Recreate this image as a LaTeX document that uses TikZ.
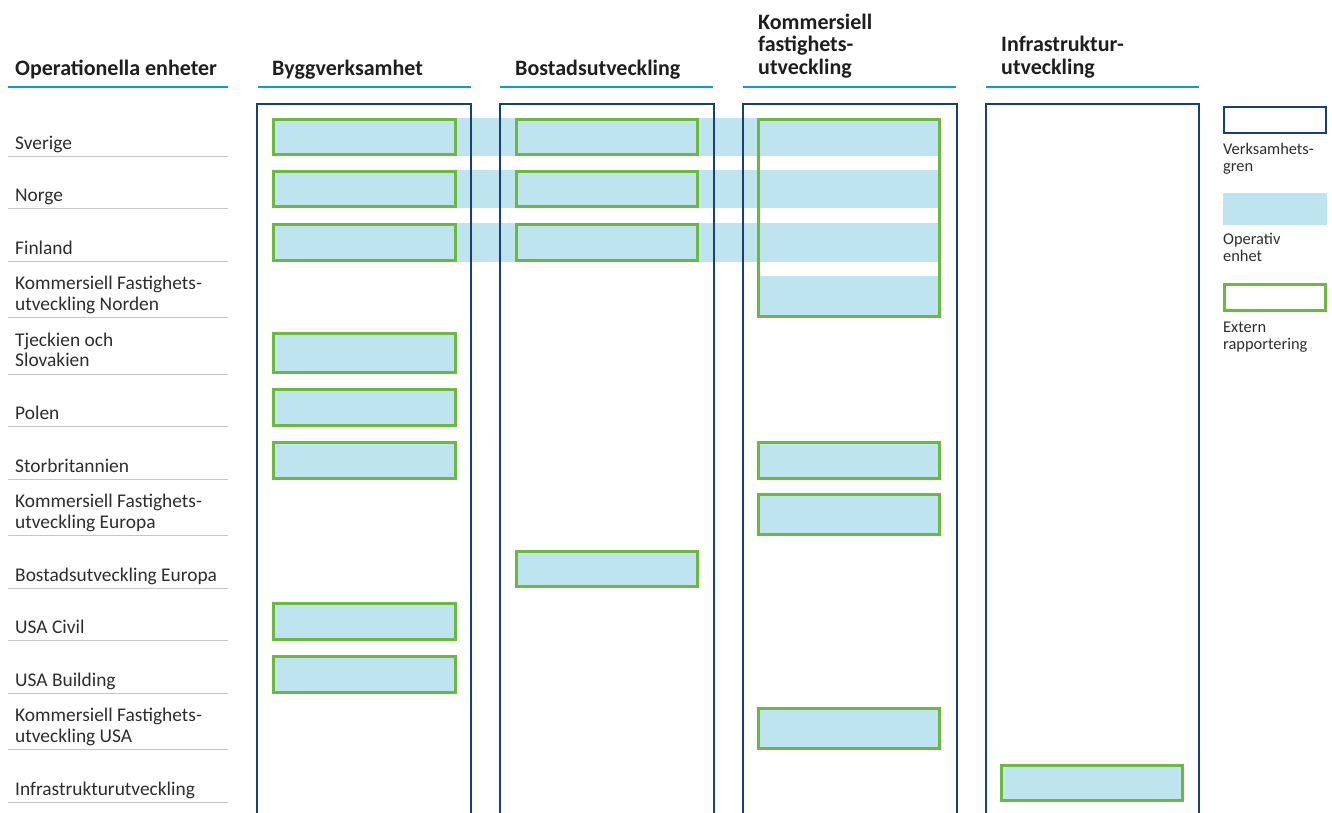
\documentclass[tikz,border=0pt]{standalone}
\usepackage{fontspec}
\setmainfont{Carlito}
\definecolor{navy}{RGB}{27,63,116}
\definecolor{ulblue}{RGB}{10,155,220}
\definecolor{extgreen}{RGB}{108,184,67}
\definecolor{opfill}{RGB}{190,228,239}
\definecolor{sepgray}{RGB}{198,198,198}
\definecolor{txt}{RGB}{45,45,45}
\definecolor{hdtxt}{RGB}{30,30,30}
\tikzset{
  colbox/.style={draw=navy, line width=1.9pt},
  underl/.style={draw=ulblue, line width=2pt},
  sepline/.style={draw=sepgray, line width=1pt},
  extbox/.style={draw=extgreen, fill=opfill, line width=2.7pt},
  extonly/.style={draw=extgreen, line width=2.7pt},
  band/.style={fill=opfill},
  hdr/.style={anchor=base west, inner sep=0pt, text=hdtxt, font=\bfseries\fontsize{22}{22.5}\selectfont},
  rowlab/.style={anchor=base west, inner sep=0pt, text=txt, font=\fontsize{19.4}{20.5}\selectfont},
  leglab/.style={anchor=base west, inner sep=0pt, text=txt, font=\fontsize{16.4}{17}\selectfont}
}
\begin{document}
\begin{tikzpicture}[x=1pt,y=-1pt]
\useasboundingbox (0,0) rectangle (1332,812);
% operative bands spanning columns
\foreach \a/\b in {118/156,170/208,223/261.5}
  \fill[band] (272,\a) rectangle (941,\b);
\fill[band] (757,276) rectangle (941,317.5);
% column boxes (open at bottom)
\foreach \l/\r in {257/471,500/714,743/957,986/1199}
  \draw[colbox] (\l,813) -- (\l,104) -- (\r,104) -- (\r,813);
% header underlines
\foreach \l/\r in {8/228,258/471,500/713,743/956,986/1199}
  \draw[underl] (\l,87) -- (\r,87);
% row separators
\foreach \y in {156,208,261.5,317.5,374,426.5,479.5,535.5,588,640.5,693.5,749.5,802}
  \draw[sepline] (8,\y) -- (228,\y);
% headers
\node[hdr] (h0) at (15,75) {Operationella enheter};
\node[hdr] (h1) at (272,75) {Byggverksamhet};
\node[hdr] (h2) at (515,75) {Bostadsutveckling};
\node[hdr] (h3) at (758,74) {\parbox[b]{200pt}{\raggedright Kommersiell\\fastighets-\\utveckling}};
\node[hdr] (h4) at (1001,74) {\parbox[b]{200pt}{\raggedright Infrastruktur-\\utveckling}};
% row labels
\node[rowlab] (r1) at (15,149) {Sverige};
\node[rowlab] (r2) at (15,201) {Norge};
\node[rowlab] (r3) at (15,254) {Finland};
\node[rowlab] (r4) at (15,310) {\parbox[b]{215pt}{\raggedright Kommersiell Fastighets-\\utveckling Norden}};
\node[rowlab] (r5) at (15,366.5) {\parbox[b]{215pt}{\raggedright Tjeckien och\\Slovakien}};
\node[rowlab] (r6) at (15,419) {Polen};
\node[rowlab] (r7) at (15,472) {Storbritannien};
\node[rowlab] (r8) at (15,528) {\parbox[b]{215pt}{\raggedright Kommersiell Fastighets-\\utveckling Europa}};
\node[rowlab] (r9) at (15,581) {Bostadsutveckling Europa};
\node[rowlab] (r10) at (15,633) {USA Civil};
\node[rowlab] (r11) at (15,686) {USA Building};
\node[rowlab] (r12) at (15,742) {\parbox[b]{215pt}{\raggedright Kommersiell Fastighets-\\utveckling USA}};
\node[rowlab] (r13) at (15,795) {Infrastrukturutveckling};
% Byggverksamhet
\foreach \a/\b in {118/156,170/208,223/261.5,332/374,388/426.5,441/479.5,602/640.5,655/693.5}
  \draw[extbox] (273.3,\a+1.3) rectangle (455.7,\b-1.3);
% Bostadsutveckling
\foreach \a/\b in {118/156,170/208,223/261.5,550/588}
  \draw[extbox] (516.3,\a+1.3) rectangle (697.7,\b-1.3);
% Kommersiell fastighetsutveckling
\draw[extonly] (758.3,119.3) rectangle (939.7,316.2);
\foreach \a/\b in {441/479.5,493/535.5,707/749.5}
  \draw[extbox] (758.3,\a+1.3) rectangle (939.7,\b-1.3);
% Infrastrukturutveckling
\draw[extbox] (1001.3,765.3) rectangle (1182.7,800.7);
% legend
\draw[colbox] (1224,107) rectangle (1326,133);
\fill[band] (1223,193) rectangle (1327,225);
\draw[extonly] (1224.3,284.3) rectangle (1325.7,310.7);
\node[leglab] (lg1) at (1223,171) {\parbox[b]{110pt}{\raggedright Verksamhets-\\gren}};
\node[leglab] (lg2) at (1223,261) {\parbox[b]{110pt}{\raggedright Operativ\\enhet}};
\node[leglab] (lg3) at (1223,349) {\parbox[b]{110pt}{\raggedright Extern\\rapportering}};
\end{tikzpicture}
\end{document}
